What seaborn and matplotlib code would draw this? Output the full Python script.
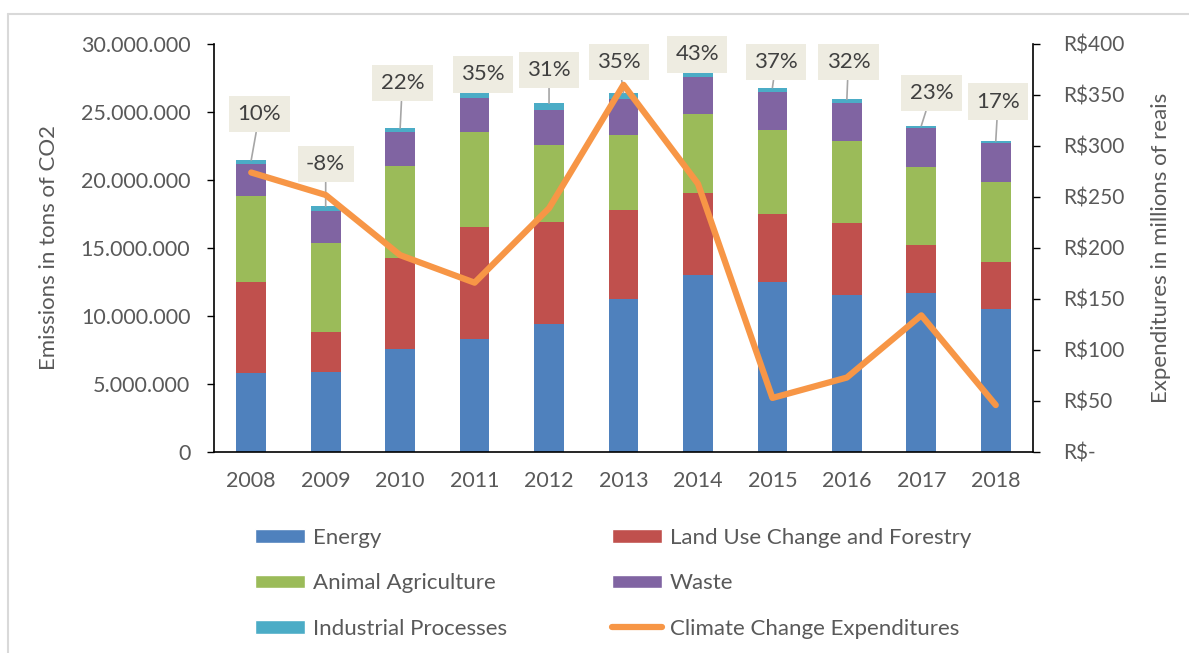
import numpy as np
import matplotlib
matplotlib.use("Agg")
import matplotlib.pyplot as plt
import seaborn as sns
from matplotlib.patches import Patch
from matplotlib.lines import Line2D
from matplotlib.ticker import FuncFormatter, MultipleLocator

years = ["2008", "2009", "2010", "2011", "2012", "2013", "2014", "2015", "2016", "2017", "2018"]
# emissions in millions of tons of CO2
energy = [5.83, 5.90, 7.55, 8.31, 9.43, 11.25, 13.01, 12.48, 11.52, 11.67, 10.51]
land_use = [6.65, 2.95, 6.69, 8.21, 7.50, 6.52, 6.03, 5.04, 5.32, 3.57, 3.46]
agriculture = [6.34, 6.49, 6.76, 7.01, 5.62, 5.54, 5.84, 6.13, 6.00, 5.72, 5.86]
waste = [2.36, 2.38, 2.53, 2.52, 2.60, 2.62, 2.72, 2.80, 2.85, 2.89, 2.91]
industrial = [0.29, 0.34, 0.29, 0.40, 0.49, 0.49, 0.44, 0.34, 0.24, 0.14, 0.13]
# expenditures in millions of reais
expenditures = [274, 252, 193, 166, 239, 360, 263, 53, 73, 134, 46]
pct_labels = ["10%", "-8%", "22%", "35%", "31%", "35%", "43%", "37%", "32%", "23%", "17%"]
# label box centres (x offset in categories, y in millions)
label_dx = [0.11, 0.0, 0.03, 0.11, 0.0, -0.06, -0.01, 0.05, 0.02, 0.14, 0.03]
label_y = [24.85, 21.18, 27.13, 27.79, 28.09, 28.68, 29.26, 28.68, 28.68, 26.40, 25.74]

sns.set_theme(style="white")
plt.rcParams['font.family'] = ['Lato', 'DejaVu Sans']
TXT = "#595959"

fig = plt.figure(figsize=(11.89, 6.53), dpi=100)
ax = fig.add_axes([214/1189, 1-452/653, (1033-214)/1189, (452-44)/653])

layers = [
    ("Energy", energy, "#4F81BD"),
    ("Land Use Change and Forestry", land_use, "#C0504D"),
    ("Animal Agriculture", agriculture, "#9BBB59"),
    ("Waste", waste, "#8064A2"),
    ("Industrial Processes", industrial, "#4BACC6"),
]
cum = np.zeros(len(years))
cums = []
for name, vals, col in layers:
    cum = cum + np.array(vals)
    cums.append(cum.copy())

for (name, vals, col), c in reversed(list(zip(layers, cums))):
    sns.barplot(x=years, y=c, color=col, width=0.4, saturation=1, errorbar=None,
                ax=ax, linewidth=0)

ax.set_xlim(-0.5, len(years) - 0.5)
ax.set_ylim(0, 30)
ax.yaxis.set_major_locator(MultipleLocator(5))
ax.yaxis.set_major_formatter(FuncFormatter(
    lambda v, p: "0" if v == 0 else f"{int(round(v*1e6)):,}".replace(",", ".")))
ax.set_ylabel("Emissions in tons of CO2", color=TXT, fontsize=16, labelpad=16)
ax.set_xlabel("")
ax.tick_params(axis='y', which='major', left=True, direction='out', length=5, width=1,
               color='black', labelcolor=TXT, labelsize=15.5, pad=12)
ax.tick_params(axis='x', length=0, labelcolor=TXT, labelsize=15.5, pad=14)
for s in ["top", "right"]:
    ax.spines[s].set_visible(False)
for s in ["left", "bottom"]:
    ax.spines[s].set_color("black")
    ax.spines[s].set_linewidth(1.2)

ax2 = ax.twinx()
sns.lineplot(x=np.arange(len(years)), y=expenditures, ax=ax2, color="#F79646",
             linewidth=4.5)
ax2.set_xlim(-0.5, len(years) - 0.5)
ax2.set_ylim(0, 400)
ax2.yaxis.set_major_locator(MultipleLocator(50))
ax2.yaxis.set_major_formatter(FuncFormatter(lambda v, p: "R$-" if v == 0 else f"R${int(v)}"))
ax2.set_ylabel("Expenditures in millions of reais", color=TXT, fontsize=16, labelpad=19)
ax2.tick_params(axis='y', right=True, direction='out', length=5, width=1,
                color='black', labelcolor=TXT, labelsize=15, pad=17)
for s in ["top", "left", "bottom"]:
    ax2.spines[s].set_visible(False)
ax2.spines["right"].set_color("black")
ax2.spines["right"].set_linewidth(1.2)

totals = cums[-1]
for i, lab in enumerate(pct_labels):
    ax.annotate(lab, xy=(i, totals[i]), xytext=(i + label_dx[i], label_y[i]),
                ha='center', va='center', fontsize=16, color="#404040",
                bbox=dict(boxstyle="square,pad=0.38", facecolor="#EEECE1", edgecolor="none"),
                arrowprops=dict(arrowstyle='-', color="#A6A6A6", lw=1.2, shrinkA=0, shrinkB=0),
                annotation_clip=False, zorder=5)

# legends (two columns)
h1 = [Patch(facecolor="#4F81BD"), Patch(facecolor="#9BBB59"), Patch(facecolor="#4BACC6")]
l1 = ["Energy", "Animal Agriculture", "Industrial Processes"]
h2 = [Patch(facecolor="#C0504D"), Patch(facecolor="#8064A2"),
      Line2D([0], [0], color="#F79646", lw=4.5)]
l2 = ["Land Use Change and Forestry", "Waste", "Climate Change Expenditures"]
common = dict(loc='upper left', frameon=False, fontsize=16, handlelength=2.25,
              handleheight=0.55, handletextpad=0.36, labelspacing=1.14,
              borderpad=0, borderaxespad=0, labelcolor=TXT)
fig.legend(h1, l1, bbox_to_anchor=(255/1189, 1-528/653), **common)
fig.legend(h2, l2, bbox_to_anchor=(612/1189, 1-528/653), **common)

# outer frame
fig.add_artist(Line2D([8/1189, 1], [1-14/653, 1-14/653], transform=fig.transFigure,
                      color="#D9D9D9", lw=1.5))
fig.add_artist(Line2D([8/1189, 8/1189], [0, 1-14/653], transform=fig.transFigure,
                      color="#D9D9D9", lw=1.5))

fig.savefig("out.png", dpi=100)
